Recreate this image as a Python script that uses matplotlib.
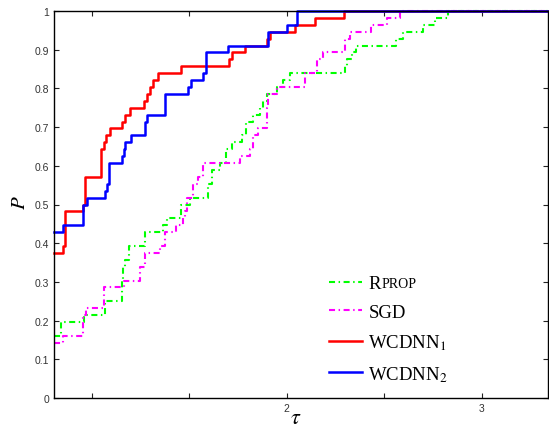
import matplotlib
matplotlib.use("Agg")
import matplotlib.pyplot as plt
import numpy as np

# ---------------- data (performance profile, 56 problems) ----------------
n_problems = 56

tau_rprop = [0.805, 0.840, 0.958, 1.066, 1.153, 1.158, 1.168, 1.189, 1.271, 1.363,
             1.384, 1.456, 1.502, 1.594, 1.615, 1.656, 1.687, 1.717, 1.769, 1.789,
             1.825, 1.861, 1.876, 1.897, 1.948, 1.979, 2.015, 2.297, 2.307, 2.333,
             2.353, 2.558, 2.594, 2.697, 2.758, 2.825]
cnt_rprop = [9, 11, 12, 14, 17, 19, 20, 22, 24, 25,
             26, 28, 29, 31, 33, 34, 36, 37, 38, 40,
             41, 42, 43, 44, 45, 46, 47, 48, 49, 50,
             51, 52, 53, 54, 55, 56]

tau_sgd = [0.805, 0.851, 0.954, 0.969, 1.061, 1.163, 1.245, 1.271, 1.348, 1.374,
           1.430, 1.466, 1.477, 1.487, 1.518, 1.543, 1.569, 1.759, 1.810, 1.825,
           1.851, 1.897, 1.902, 1.948, 2.092, 2.153, 2.184, 2.297, 2.323, 2.430,
           2.512, 2.579]
cnt_sgd = [8, 9, 12, 13, 16, 17, 19, 21, 22, 24,
           25, 26, 27, 29, 31, 32, 34, 35, 36, 38,
           39, 42, 44, 45, 47, 49, 50, 52, 53, 54,
           55, 56]

tau_w1 = [0.805, 0.850, 0.860, 0.955, 0.966, 1.045, 1.060, 1.071, 1.091, 1.153,
          1.168, 1.194, 1.266, 1.281, 1.296, 1.312, 1.337, 1.455, 1.701, 1.717,
          1.783, 1.896, 1.912, 2.040, 2.142, 2.291]
cnt_w1 = [21, 22, 27, 28, 32, 36, 37, 38, 39, 40,
          41, 42, 43, 44, 45, 46, 47, 48, 49, 50,
          51, 52, 53, 54, 55, 56]

tau_w2 = [0.805, 0.850, 0.953, 0.973, 1.066, 1.076, 1.086, 1.153, 1.163, 1.168,
          1.199, 1.271, 1.281, 1.373, 1.491, 1.507, 1.568, 1.584, 1.696, 1.901,
          1.999, 2.050]
cnt_w2 = [24, 25, 28, 29, 30, 31, 34, 35, 36, 37,
          38, 40, 41, 44, 45, 46, 47, 50, 51, 53,
          54, 56]

labels = ["R", "SGD", "WCDNN$_1$", "WCDNN$_2$"]
x_ticks = [1.0, 1.5, 2.0, 2.5, 3.0]
x_ticklabels = ["", "", "2", "", "3"]
y_ticks = [0, 0.1, 0.2, 0.3, 0.4, 0.5, 0.6, 0.7, 0.8, 0.9, 1.0]
y_ticklabels = ["0", "0.1", "0.2", "0.3", "0.4", "0.5", "0.6", "0.7", "0.8", "0.9", "1"]

# ---------------- figure ----------------
plt.rcParams["mathtext.fontset"] = "stix"
W, H = 549, 431
fig = plt.figure(figsize=(W / 100, H / 100), dpi=100)
ax = fig.add_axes([54 / W, 1 - 399 / H, (548 - 54) / W, (399 - 12) / H])

XMIN, XMAX = 0.805, 3.34
dashdot = (0, (2.9, 1.7, 0.7, 1.7))

series = [
    (tau_rprop, cnt_rprop, "#00ff00", dashdot, 1.5),
    (tau_sgd, cnt_sgd, "#ff00ff", dashdot, 1.5),
    (tau_w1, cnt_w1, "#ff0000", "-", 1.8),
    (tau_w2, cnt_w2, "#0000ff", "-", 1.8),
]
handles = []
for (t, c, col, ls, lw), lab in zip(series, labels):
    tt = list(t) + [XMAX]
    pp = [v / n_problems for v in c] + [c[-1] / n_problems]
    h, = ax.step(tt, pp, where="post", color=col, linestyle=ls, linewidth=lw,
                 label=lab, clip_on=False)
    handles.append(h)

ax.set_xlim(XMIN, XMAX)
ax.set_ylim(0, 1)
ax.set_xticks(x_ticks)
ax.set_xticklabels(x_ticklabels)
ax.set_yticks(y_ticks)
ax.set_yticklabels(y_ticklabels)
ax.tick_params(direction="in", length=3.5, width=0.8, top=True, right=True,
               labelsize=7.5, pad=3.5, colors="#222222", labelcolor="#333333")
for lbl in ax.get_xticklabels() + ax.get_yticklabels():
    lbl.set_family("Liberation Sans")
for s in ax.spines.values():
    s.set_linewidth(1.0)
    s.set_color("black")

fig.text(19 / W, 1 - 203 / H, "$P$", rotation=90, fontsize=15,
         ha="center", va="center")
fig.text(296 / W, 1 - 418 / H, r"$\tau$", fontsize=16, ha="center", va="center")

leg = ax.legend(handles=handles, labels=labels, loc="upper left",
                bbox_to_anchor=(329 / W, 1 - 276 / H), bbox_transform=fig.transFigure,
                frameon=False, borderpad=0, borderaxespad=0,
                handlelength=1.75, handletextpad=0.35, labelspacing=0.62,
                prop={"family": "Liberation Serif", "size": 13.5})

fig.canvas.draw()
t0 = leg.get_texts()[0]
ax.annotate("PROP", xy=(1, 0), xycoords=t0, xytext=(0.5, 1.6),
            textcoords="offset points", ha="left", va="bottom",
            family="Liberation Serif", fontsize=10, zorder=10)

fig.savefig("out.png", dpi=100)
